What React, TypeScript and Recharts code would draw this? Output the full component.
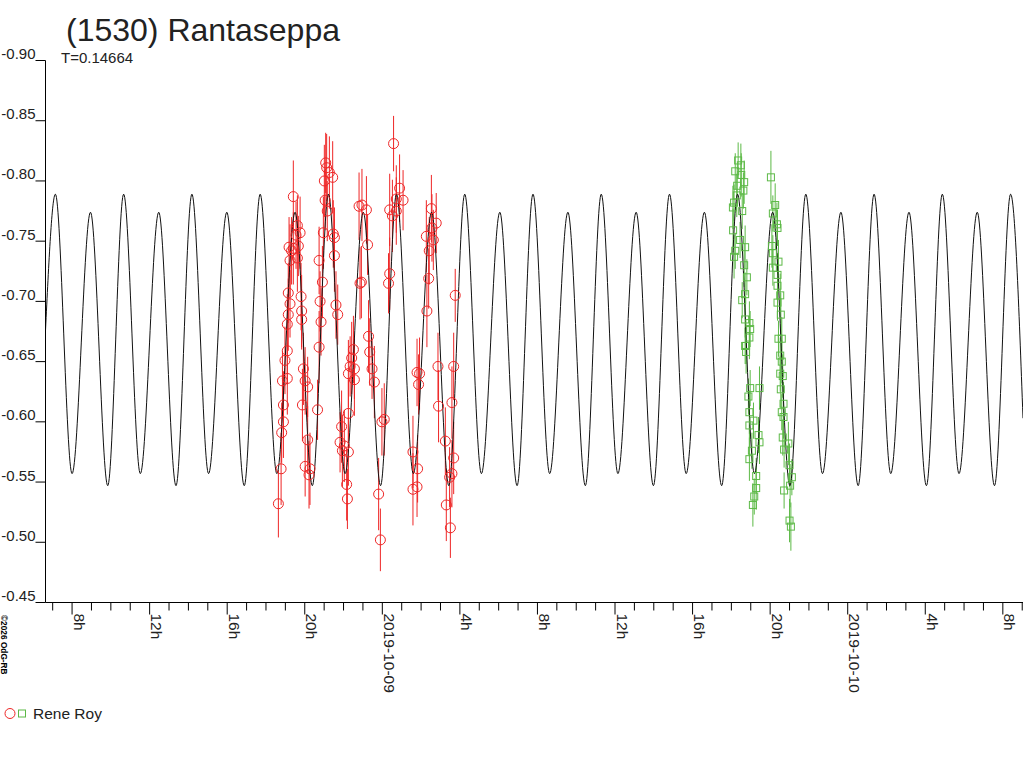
import {
  ComposedChart,
  Line,
  Scatter,
  ErrorBar,
  XAxis,
  YAxis,
} from "recharts";

// model lightcurve: start, then extremes (peak / trough), hours from 2019-10-09 00:00
const curveT = [
  -17.37, -16.86, -16.0, -15.05, -14.16, -13.34, -12.48, -11.53, -10.64, -9.82, -8.96, -8.02, -7.12,
  -6.3, -5.44, -4.5, -3.61, -2.78, -1.92, -0.98, -0.09, 0.73, 1.6, 2.54, 3.43, 4.25, 5.11, 6.06, 6.95,
  7.77, 8.63, 9.57, 10.47, 11.29, 12.15, 13.09, 13.98, 14.81, 15.67, 16.61, 17.5, 18.32, 19.19, 20.13,
  21.02, 21.84, 22.7, 23.65, 24.54, 25.36, 26.22, 27.16, 28.06, 28.88, 29.74, 30.68, 31.57, 32.4, 33.04,
];
const curveV = [
  -0.676,
  -0.789, -0.557, -0.774, -0.547, -0.789, -0.557, -0.774, -0.547,
  -0.789, -0.557, -0.774, -0.547, -0.789, -0.557, -0.774, -0.547,
  -0.789, -0.557, -0.774, -0.547, -0.789, -0.557, -0.774, -0.547,
  -0.789, -0.557, -0.774, -0.547, -0.789, -0.557, -0.774, -0.547,
  -0.789, -0.557, -0.774, -0.547, -0.789, -0.557, -0.774, -0.547,
  -0.789, -0.557, -0.774, -0.547, -0.789, -0.557, -0.774, -0.547,
  -0.789, -0.557, -0.774, -0.547, -0.789, -0.557, -0.774, -0.547,
  -0.789, -0.603,
];

// first night (red circles)
const redT = [
  -5.36, -5.22, -5.19, -5.1, -5.1, -5.15, -4.9, -5.02, -4.9, -4.85, -4.76, -4.85, -4.76, -4.81, -4.68,
  -4.59, -4.33, -4.45, -4.24, -4.38, -4.59, -4.19, -4.16, -4.16, -4.07, -3.98, -3.85, -4.12, -3.85,
  -3.98, -3.73, -3.78, -3.34, -3.26, -3.16, -3.21, -3.09, -3.26, -3.04, -2.95, -2.99, -2.87, -2.92,
  -2.56, -2.53, -2.47, -2.47, -2.39, -2.3, -2.1, -1.75, -2.18, -2.06, -1.75, -1.84, -1.8, -1.75, -1.66,
  -1.58, -1.49, -1.44, -1.44, -1.2, -1.15, 0.58, -1.05, -0.82, -0.76, -1.08, 0.89, 1.07, 0.38, 0.72,
  0.38, 0.32, -0.71, -0.65, -0.53, -0.41, -0.02, 0.1, -0.19, -0.1, 2.53, 2.78, 2.27, 2.56, 2.39, 2.3,
  1.79, 1.92, 1.87, 1.58, 1.82, 1.58, 1.79, 2.87, 2.9, 3.25, 3.47, 3.68, 3.59, 3.3, 3.51, 3.68, 3.59,
  3.76, -4.38, -2.73, -2.84, 0.72, 0.52, 2.63, 2.42, -1.96, -4.9,
];
const redV = [
  -0.532, -0.561, -0.591, -0.6, -0.614, -0.634, -0.636, -0.651, -0.681, -0.689, -0.698, -0.707, -0.734,
  -0.745, -0.742, -0.744, -0.746, -0.755, -0.757, -0.763, -0.787, -0.704, -0.692, -0.685, -0.644,
  -0.634, -0.629, -0.614, -0.585, -0.563, -0.561, -0.556, -0.61, -0.662, -0.683, -0.7, -0.716, -0.734,
  -0.757, -0.784, -0.8, -0.811, -0.815, -0.803, -0.756, -0.753, -0.738, -0.697, -0.689, -0.596, -0.607,
  -0.583, -0.576, -0.575, -0.548, -0.536, -0.64, -0.646, -0.653, -0.66, -0.644, -0.635, -0.779, -0.715,
  -0.831, -0.78, -0.776, -0.747, -0.716, -0.794, -0.784, -0.776, -0.775, -0.723, -0.715, -0.671,
  -0.658, -0.644, -0.633, -0.6, -0.602, -0.54, -0.502, -0.777, -0.765, -0.754, -0.761, -0.719, -0.692,
  -0.641, -0.64, -0.631, -0.575, -0.561, -0.544, -0.546, -0.646, -0.613, -0.584, -0.554, -0.57, -0.557,
  -0.531, -0.512, -0.646, -0.616, -0.705, -0.736, -0.807, -0.775, -0.785, -0.771, -0.751, -0.742,
  -0.58, -0.659,
];
const redErr = [
  0.028, 0.03, 0.025, 0.03, 0.028, 0.025, 0.03, 0.028, 0.025, 0.03, 0.028, 0.025, 0.03, 0.025, 0.028,
  0.03, 0.025, 0.028, 0.03, 0.025, 0.03, 0.028, 0.03, 0.025, 0.03, 0.028, 0.025, 0.03, 0.028, 0.025,
  0.03, 0.028, 0.025, 0.03, 0.028, 0.025, 0.03, 0.028, 0.03, 0.025, 0.03, 0.028, 0.025, 0.03, 0.028,
  0.025, 0.03, 0.028, 0.025, 0.03, 0.028, 0.025, 0.03, 0.028, 0.03, 0.025, 0.028, 0.025, 0.03, 0.028,
  0.025, 0.03, 0.028, 0.03, 0.023, 0.03, 0.028, 0.025, 0.03, 0.028, 0.025, 0.03, 0.028, 0.03, 0.025,
  0.03, 0.028, 0.025, 0.03, 0.028, 0.03, 0.03, 0.026, 0.028, 0.025, 0.03, 0.028, 0.025, 0.03, 0.028,
  0.03, 0.025, 0.03, 0.028, 0.03, 0.025, 0.028, 0.03, 0.028, 0.025, 0.03, 0.028, 0.03, 0.025, 0.028,
  0.03, 0.022, 0.028, 0.03, 0.025, 0.028, 0.03, 0.025, 0.028, 0.03, 0.028,
];

// second night (green squares)
const greenT = [
  18.49, 18.2, 18.66, 18.62, 18.28, 18.14, 18.08, 18.45, 18.71, 18.2, 18.14, 18.8, 18.71, 18.71, 18.93,
  18.97, 18.93, 18.71, 20.04, 20.26, 20.14, 20.35, 20.38, 20.09, 20.14, 20.43, 20.14, 20.38, 20.38,
  20.52, 20.38, 20.55, 20.43, 20.6, 18.76, 18.76, 18.97, 19.45, 18.88, 18.93, 19.14, 18.93, 19.4, 19.45,
  19.06, 18.93, 19.28, 19.28, 19.18, 19.11, 20.52, 20.6, 20.52, 20.65, 20.55, 20.69, 20.6, 20.69, 20.65,
  20.94, 20.72, 21.0, 21.12, 21.03, 20.72, 21.0, 21.07, 18.35, 18.51, 18.3, 18.09, 18.56, 18.66, 18.56,
];
const greenV = [
  -0.813, -0.808, -0.799, -0.792, -0.788, -0.782, -0.778, -0.751, -0.745, -0.742, -0.737, -0.72, -0.706,
  -0.685, -0.682, -0.677, -0.67, -0.663, -0.803, -0.78, -0.773, -0.764, -0.761, -0.746, -0.74, -0.733,
  -0.728, -0.722, -0.713, -0.705, -0.699, -0.689, -0.669, -0.669, -0.663, -0.658, -0.628, -0.628,
  -0.621, -0.608, -0.601, -0.597, -0.589, -0.583, -0.576, -0.569, -0.555, -0.545, -0.538, -0.531,
  -0.655, -0.65, -0.64, -0.638, -0.627, -0.615, -0.608, -0.604, -0.587, -0.582, -0.577, -0.564, -0.554,
  -0.547, -0.543, -0.518, -0.513, -0.817, -0.805, -0.796, -0.759, -0.775, -0.73, -0.701,
];
const greenErr = [
  0.018, 0.015, 0.018, 0.015, 0.018, 0.015, 0.018, 0.015, 0.018, 0.015, 0.018, 0.015, 0.018, 0.015,
  0.018, 0.015, 0.018, 0.015, 0.022, 0.018, 0.015, 0.018, 0.015, 0.018, 0.015, 0.018, 0.015, 0.018,
  0.015, 0.018, 0.015, 0.018, 0.015, 0.018, 0.015, 0.018, 0.015, 0.018, 0.015, 0.018, 0.015, 0.018,
  0.015, 0.018, 0.015, 0.018, 0.015, 0.018, 0.015, 0.018, 0.015, 0.018, 0.015, 0.018, 0.015, 0.018,
  0.015, 0.018, 0.015, 0.018, 0.015, 0.018, 0.015, 0.018, 0.015, 0.018, 0.02, 0.015, 0.018, 0.015,
  0.018, 0.015, 0.018, 0.015,
];

const yTicks = [-0.9, -0.85, -0.8, -0.75, -0.7, -0.65, -0.6, -0.55, -0.5, -0.45];
const hourTicks = [
  -17, -16, -15, -14, -13, -12, -11, -10, -9, -8, -7, -6, -5, -4, -3, -2, -1, 0, 1, 2, 3, 4, 5, 6, 7, 8,
  9, 10, 11, 12, 13, 14, 15, 16, 17, 18, 19, 20, 21, 22, 23, 24, 25, 26, 27, 28, 29, 30, 31, 32, 33,
];
const majorTicks = [-16, -12, -8, -4, 0, 4, 8, 12, 16, 20, 24, 28, 32];
const majorLabels = ["8h", "12h", "16h", "20h", "2019-10-09", "4h", "8h", "12h", "16h", "20h", "2019-10-10", "4h", "8h"];

const curveData = curveT.map((t, i) => ({ t, v: curveV[i] }));
const redData = redT.map((t, i) => ({ t, v: redV[i], err: redErr[i] }));
const greenData = greenT.map((t, i) => ({ t, v: greenV[i], err: greenErr[i] }));

const RED = "#ee2626";
const GREEN = "#5cb946";
const FONT = "'Liberation Sans', Arial, sans-serif";

const YTick = ({ x, y, payload }: any) => (
  <g>
    <line x1={x - 10} x2={x} y1={y} y2={y} stroke="#000" />
    <text x={x - 10} y={y - 1.5} textAnchor="end" fontSize={15} fill="#222" fontFamily={FONT}>
      {Number(payload.value).toFixed(2)}
    </text>
  </g>
);

const XTick = ({ x, y, payload }: any) => {
  const i = majorTicks.indexOf(payload.value);
  const major = i >= 0;
  return (
    <g>
      <line x1={x} x2={x} y1={y} y2={y + (major ? 12 : 8)} stroke="#000" />
      {major && (
        <text
          transform={`translate(${x},${y + 11}) rotate(90)`}
          x={0}
          y={-1.5}
          fontSize={15.5}
          fill="#222"
          fontFamily={FONT}
        >
          {majorLabels[i]}
        </text>
      )}
    </g>
  );
};

const Circle = ({ cx, cy }: any) => <circle cx={cx} cy={cy} r={5} fill="none" stroke={RED} />;
const Square = ({ cx, cy }: any) => (
  <rect x={cx - 3.5} y={cy - 3.5} width={7} height={7} fill="none" stroke={GREEN} />
);

export default function App() {
  return (
    <div style={{ position: "absolute", left: 0, top: 0, width: 1024, height: 768, background: "#fff" }}>
      <ComposedChart width={1024} height={768} margin={{ top: 60.5, right: 1, bottom: 0, left: 0 }}>
        <XAxis
          dataKey="t"
          type="number"
          domain={[-17.37, 33.04]}
          allowDataOverflow
          ticks={hourTicks}
          interval={0}
          height={165.5}
          tickSize={0}
          tickMargin={0}
          tickLine={false}
          axisLine={{ stroke: "#000" }}
          tick={(p: any) => <XTick {...p} />}
        />
        <YAxis
          type="number"
          domain={[-0.9, -0.45]}
          reversed
          allowDataOverflow
          ticks={yTicks}
          interval={0}
          width={45.5}
          tickSize={0}
          tickMargin={0}
          tickLine={false}
          axisLine={{ stroke: "#000" }}
          tick={(p: any) => <YTick {...p} />}
        />
        <Scatter data={redData} dataKey="v" shape={(p: any) => <Circle {...p} />} isAnimationActive={false}>
          <ErrorBar dataKey="err" direction="y" width={0} stroke={RED} strokeWidth={1} isAnimationActive={false} />
        </Scatter>
        <Scatter data={greenData} dataKey="v" shape={(p: any) => <Square {...p} />} isAnimationActive={false}>
          <ErrorBar dataKey="err" direction="y" width={0} stroke={GREEN} strokeWidth={1} isAnimationActive={false} />
        </Scatter>
        <Line
          data={curveData}
          dataKey="v"
          type="monotone"
          stroke="#111"
          strokeWidth={1}
          dot={false}
          activeDot={false}
          isAnimationActive={false}
        />
      </ComposedChart>
      <svg
        width={1024}
        height={768}
        style={{ position: "absolute", left: 0, top: 0, pointerEvents: "none" }}
        fontFamily={FONT}
      >
        <text x={66} y={40.5} fontSize={32} fill="#222">
          (1530) Rantaseppa
        </text>
        <text x={61} y={63} fontSize={15} fill="#222">
          T=0.14664
        </text>
        <text transform="translate(0,615) rotate(90)" x={0} y={-1} fontSize={8.3} fontWeight="bold" fill="#000">
          ©2026 OdG-RB
        </text>
        <circle cx={10} cy={713.5} r={5} fill="none" stroke={RED} />
        <rect x={18.5} y={710} width={7} height={7} fill="none" stroke={GREEN} />
        <text x={33} y={718.5} fontSize={15.5} fill="#222">
          Rene Roy
        </text>
      </svg>
    </div>
  );
}
